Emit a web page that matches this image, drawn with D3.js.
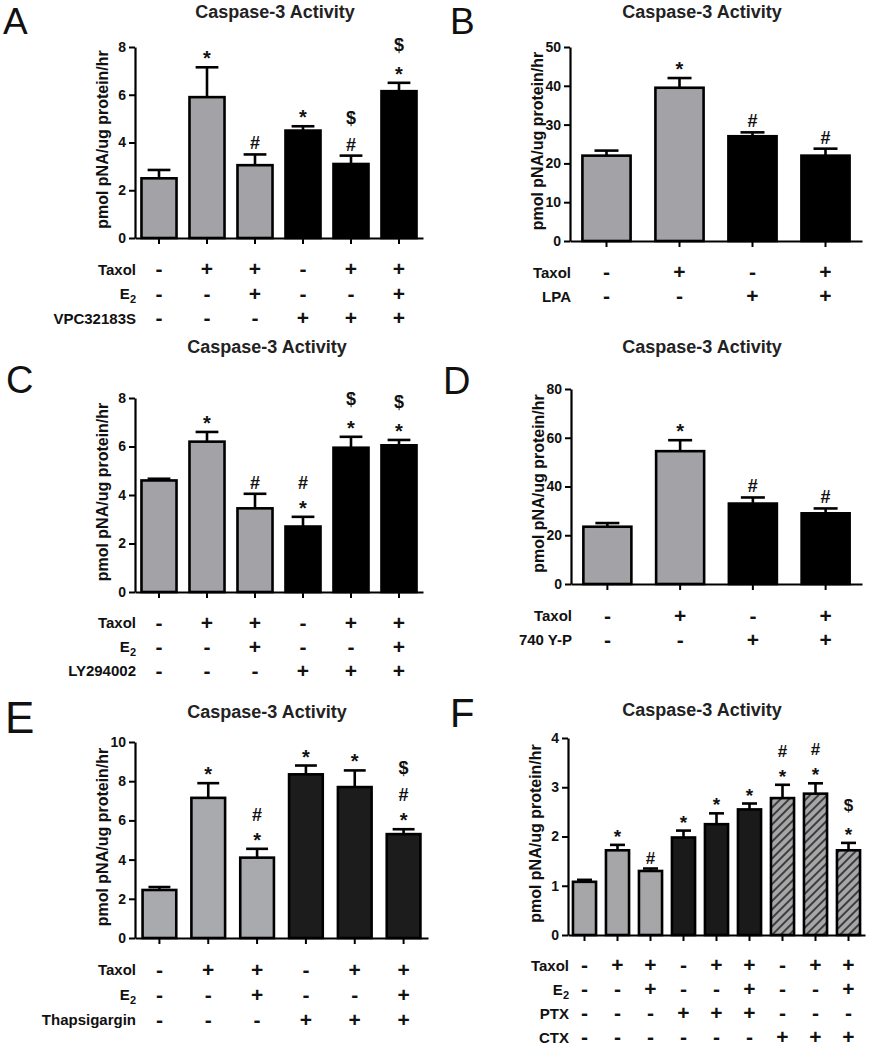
<!DOCTYPE html>
<html><head><meta charset="utf-8">
<script src="https://cdn.jsdelivr.net/npm/d3@7"></script>
<style>
body{margin:0;background:#fff}
text{font-family:"Liberation Sans",Arial,Helvetica,sans-serif}
</style>
</head><body>
<svg id="chart" width="870" height="1050"></svg>
<script>
// ================= DATA =================
const titleText = "Caspase-3 Activity";
const yLabelText = "pmol pNA/ug protein/hr";

// Panel A
const aValues = [2.5, 5.9, 3.05, 4.5, 3.1, 6.15];
const aErrors = [0.35, 1.25, 0.45, 0.18, 0.35, 0.35];
const aFills = ["gray","gray","gray","black","black","black"];
const aMarks = [[], ["*"], ["#"], ["*"], ["#","$"], ["*","$"]];
const aRowNames = ["Taxol","E2","VPC32183S"];
const aRows = [["-","+","+","-","+","+"],["-","-","+","-","-","+"],["-","-","-","+","+","+"]];
const aTicks = [0,2,4,6,8];

// Panel B
const bValues = [22, 39.5, 27, 22];
const bErrors = [1.3, 2.5, 1.0, 1.8];
const bFills = ["gray","gray","black","black"];
const bMarks = [[], ["*"], ["#"], ["#"]];
const bRowNames = ["Taxol","LPA"];
const bRows = [["-","+","-","+"],["-","-","+","+"]];
const bTicks = [0,10,20,30,40,50];

// Panel C
const cValues = [4.6, 6.2, 3.45, 2.7, 5.95, 6.05];
const cErrors = [0.07, 0.4, 0.6, 0.4, 0.45, 0.22];
const cFills = ["gray","gray","gray","black","black","black"];
const cMarks = [[], ["*"], ["#"], ["*","#"], ["*","$"], ["*","$"]];
const cRowNames = ["Taxol","E2","LY294002"];
const cRows = [["-","+","+","-","+","+"],["-","-","+","-","-","+"],["-","-","-","+","+","+"]];
const cTicks = [0,2,4,6,8];

// Panel D
const dValues = [23.5, 54.5, 33, 29];
const dErrors = [1.5, 4.5, 2.5, 2.0];
const dFills = ["gray","gray","black","black"];
const dMarks = [[], ["*"], ["#"], ["#"]];
const dRowNames = ["Taxol","740 Y-P"];
const dRows = [["-","+","-","+"],["-","-","+","+"]];
const dTicks = [0,20,40,60,80];

// Panel E
const eValues = [2.45, 7.15, 4.1, 8.35, 7.7, 5.3];
const eErrors = [0.15, 0.75, 0.45, 0.45, 0.85, 0.25];
const eFills = ["gray","gray","gray","black","black","black"];
const eMarks = [[], ["*"], ["*","#"], ["*"], ["*"], ["*","#","$"]];
const eRowNames = ["Taxol","E2","Thapsigargin"];
const eRows = [["-","+","+","-","+","+"],["-","-","+","-","-","+"],["-","-","-","+","+","+"]];
const eTicks = [0,2,4,6,8,10];

// Panel F
const fValues = [1.08, 1.72, 1.3, 1.98, 2.25, 2.55, 2.78, 2.87, 1.72];
const fErrors = [0.04, 0.11, 0.05, 0.14, 0.22, 0.12, 0.27, 0.21, 0.15];
const fFills = ["gray","gray","gray","black","black","black","hatch","hatch","hatch"];
const fMarks = [[], ["*"], ["#"], ["*"], ["*"], ["*"], ["*","#"], ["*","#"], ["*","$"]];
const fRowNames = ["Taxol","E2","PTX","CTX"];
const fRows = [["-","+","+","-","+","+","-","+","+"],["-","-","+","-","-","+","-","-","+"],["-","-","-","+","+","+","-","-","-"],["-","-","-","-","-","-","+","+","+"]];
const fTicks = [0,1,2,3,4];

// ================= DRAW =================
const svg = d3.select("#chart");
const defs = svg.append("defs");
const pat = defs.append("pattern").attr("id","hatch").attr("patternUnits","userSpaceOnUse")
  .attr("width",6).attr("height",6).attr("patternTransform","rotate(45)");
pat.append("rect").attr("width",6).attr("height",6).attr("fill","#a6a6a8");
pat.append("line").attr("x1",1).attr("x2",1).attr("y1",0).attr("y2",6).attr("stroke","#1a1a1a").attr("stroke-width",1.5);

const ink = "#111";

function drawPanel(d, L) {
  const g = svg.append("g");
  const n = d.values.length;
  const x = d3.scaleBand().domain(d3.range(n)).range([L.axisX, L.xEnd])
    .paddingInner(L.pad).paddingOuter(L.pad/2);
  const y = d3.scaleLinear().domain([0, L.yMax]).range([L.yZero, L.yTop]);
  const fillOf = f => f === "gray" ? L.gray : f === "black" ? L.black : "url(#hatch)";

  // letter
  g.append("text").attr("x", L.letterX).attr("y", L.letterY)
    .attr("font-size", L.letterSize).attr("fill", ink).text(L.letter);
  // title
  g.append("text").attr("x", L.titleX).attr("y", L.titleY).attr("text-anchor","middle")
    .attr("font-size", 18).attr("font-weight","bold").attr("fill","#222").text(titleText);
  // y label
  g.append("text").attr("transform", `translate(${L.axisX - 27},${(L.yTop + L.yZero)/2 - 3}) rotate(-90)`)
    .attr("text-anchor","middle").attr("font-size", 16).attr("font-weight","bold").attr("fill",ink)
    .text(yLabelText);

  // bars
  g.selectAll("rect.bar").data(d.values).join("rect").attr("class","bar")
    .attr("x", (v,i) => x(i)).attr("width", x.bandwidth())
    .attr("y", v => y(v)).attr("height", v => L.yZero - y(v))
    .attr("fill", (v,i) => fillOf(d.fills[i])).attr("stroke","#000").attr("stroke-width",2.6);

  // error bars
  const capW = Math.min(24, 0.65 * x.bandwidth());
  d.values.forEach((v,i) => {
    const cx = x(i) + x.bandwidth()/2;
    const top = y(v + d.errors[i]);
    g.append("line").attr("x1",cx).attr("x2",cx).attr("y1",y(v)).attr("y2",top)
      .attr("stroke","#000").attr("stroke-width",2.6);
    g.append("line").attr("x1",cx - capW/2).attr("x2",cx + capW/2).attr("y1",top).attr("y2",top)
      .attr("stroke","#000").attr("stroke-width",2.6);
    // significance marks
    let base = top - 5;
    d.marks[i].forEach((m,k) => {
      if (k > 0) base -= (m === "$" ? 27 : 23);
      g.append("text").attr("x",cx).attr("y", m === "*" ? base + 3 : base).attr("text-anchor","middle")
        .attr("font-size", m === "*" ? L.markSize + 2 : L.markSize).attr("font-weight","bold").attr("fill",ink).text(m);
    });
  });

  // axes
  const ya = g.append("g").attr("transform",`translate(${L.axisX},0)`)
    .call(d3.axisLeft(y).tickValues(d.ticks).tickFormat(d3.format("d")).tickSize(6).tickSizeOuter(0).tickPadding(3));
  ya.select(".domain").attr("stroke","#000").attr("stroke-width",2.2);
  ya.selectAll(".tick line").attr("stroke","#000").attr("stroke-width",2);
  ya.selectAll(".tick text").attr("font-size",14).attr("font-weight","bold").attr("fill",ink)
    .attr("font-family",'"Liberation Sans",Arial,sans-serif');

  const xa = g.append("g").attr("transform",`translate(0,${L.yZero})`)
    .call(d3.axisBottom(x).tickSize(6).tickSizeOuter(0).tickFormat(""));
  xa.select(".domain").attr("stroke","#000").attr("stroke-width",2.2);
  xa.selectAll(".tick line").attr("stroke","#000").attr("stroke-width",2);

  // condition rows
  d.rowNames.forEach((name, r) => {
    const cy = L.yZero + L.row0 + r * L.rowStep;
    const t = g.append("text").attr("x", L.axisX + 1).attr("y", cy + 5.4)
      .attr("text-anchor","end").attr("font-size",15).attr("font-weight","bold").attr("fill",ink);
    if (name === "E2") {
      t.append("tspan").text("E");
      t.append("tspan").attr("font-size",11).attr("dy",4).text("2");
    } else {
      t.text(name);
    }
    d.rows[r].forEach((s,i) => {
      g.append("text").attr("x", x(i) + x.bandwidth()/2).attr("y", cy + 0.33 * L.pmSize)
        .attr("text-anchor","middle").attr("font-size",L.pmSize).attr("font-weight","bold")
        .attr("fill",ink).text(s);
    });
  });
}

const G = "#a3a3a7";
drawPanel({values:aValues, errors:aErrors, fills:aFills, marks:aMarks, rowNames:aRowNames, rows:aRows, ticks:aTicks},
  {letter:"A", letterX:3, letterY:34, letterSize:37, titleX:275, titleY:18, axisX:135, xEnd:423, yTop:47, yZero:238, yMax:8, pad:0.27, gray:G, black:"#000", markSize:18, row0:31.5, rowStep:24.5, pmSize:21});
drawPanel({values:bValues, errors:bErrors, fills:bFills, marks:bMarks, rowNames:bRowNames, rows:bRows, ticks:bTicks},
  {letter:"B", letterX:450, letterY:34, letterSize:37, titleX:702, titleY:18, axisX:570, xEnd:862, yTop:47, yZero:241, yMax:50, pad:0.34, gray:G, black:"#000", markSize:18, row0:31.5, rowStep:24, pmSize:21});
drawPanel({values:cValues, errors:cErrors, fills:cFills, marks:cMarks, rowNames:cRowNames, rows:cRows, ticks:cTicks},
  {letter:"C", letterX:6, letterY:393, letterSize:38, titleX:267, titleY:353, axisX:135, xEnd:423, yTop:398, yZero:592, yMax:8, pad:0.27, gray:G, black:"#000", markSize:18, row0:31, rowStep:24, pmSize:21});
drawPanel({values:dValues, errors:dErrors, fills:dFills, marks:dMarks, rowNames:dRowNames, rows:dRows, ticks:dTicks},
  {letter:"D", letterX:443, letterY:394, letterSize:38, titleX:702, titleY:353, axisX:571, xEnd:862, yTop:389, yZero:584, yMax:80, pad:0.34, gray:G, black:"#000", markSize:18, row0:32, rowStep:23.6, pmSize:21});
drawPanel({values:eValues, errors:eErrors, fills:eFills, marks:eMarks, rowNames:eRowNames, rows:eRows, ticks:eTicks},
  {letter:"E", letterX:5, letterY:733, letterSize:44, titleX:267, titleY:718, axisX:135, xEnd:428, yTop:742, yZero:938, yMax:10, pad:0.31, gray:"#a9aaae", black:"#1c1c1c", markSize:18, row0:32, rowStep:25, pmSize:21});
drawPanel({values:fValues, errors:fErrors, fills:fFills, marks:fMarks, rowNames:fRowNames, rows:fRows, ticks:fTicks},
  {letter:"F", letterX:450, letterY:727, letterSize:40, titleX:702, titleY:716, axisX:568, xEnd:865, yTop:738, yZero:935, yMax:4, pad:0.3, gray:"#a6a6a8", black:"#1a1a1a", markSize:17, row0:30.5, rowStep:24, pmSize:21});
</script>
</body></html>
